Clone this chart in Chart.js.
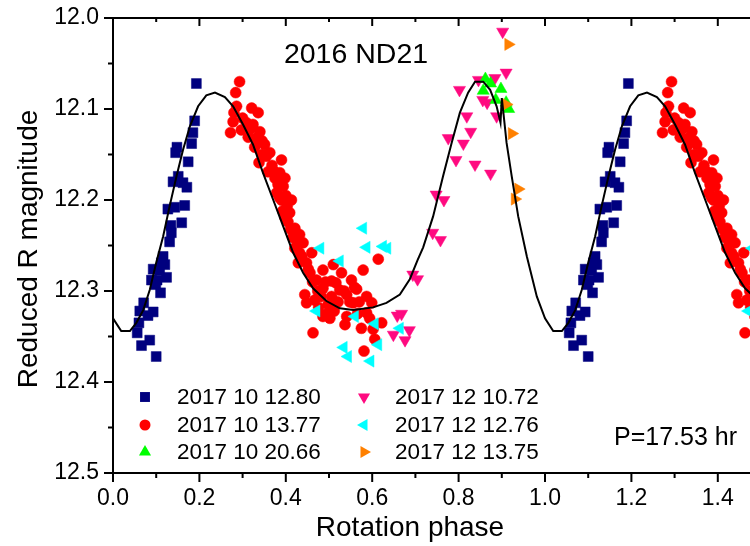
<!DOCTYPE html>
<html>
<head>
<meta charset="utf-8">
<script src="https://cdn.jsdelivr.net/npm/chart.js@4/dist/chart.umd.min.js"></script>
<style>
  html, body { margin: 0; padding: 0; background: #fff; overflow: hidden; }
  #wrap { width: 772px; height: 546px; position: relative; }
</style>
</head>
<body>
<div id="wrap"><canvas id="c"></canvas></div>
<script>
// ---------- data (rotation phase, reduced R magnitude) ----------
const chartTitle = "2016 ND21";
const periodLabel = "P=17.53 hr";
const xTitle = "Rotation phase";
const yTitle = "Reduced R magnitude";
const seriesNames = ["2017 10 12.80", "2017 10 13.77", "2017 10 20.66", "2017 12 10.72", "2017 12 12.76", "2017 12 13.75"];
const xTickValues = [0, 0.2, 0.4, 0.6, 0.8, 1.0, 1.2, 1.4];
const xMinorTicks = [0, 0.1, 0.2, 0.3, 0.4, 0.5, 0.6, 0.7, 0.8, 0.9, 1.0, 1.1, 1.2, 1.3, 1.4, 1.5];
const yTickValues = [12.0, 12.1, 12.2, 12.3, 12.4, 12.5];
const yMinorTicks = [12.0, 12.05, 12.1, 12.15, 12.2, 12.25, 12.3, 12.35, 12.4, 12.45, 12.5];
const phaseRepeats = [0, 1];   // the light curve is plotted over 1.5 cycles
const X_MAX = 1.5;

const bluePhase = [0.193,0.189,0.185,0.182,0.148,0.145,0.174,0.151,0.139,0.162,0.171,0.166,0.143,0.127,0.159,0.134,0.135,0.131,0.116,0.120,0.093,0.108,0.124,0.089,0.102,0.099,0.110,0.071,0.062,0.093,0.081,0.060,0.056,0.085,0.066,0.100,0.112];
const blueMag   = [12.072,12.113,12.126,12.138,12.142,12.148,12.158,12.174,12.180,12.181,12.186,12.206,12.208,12.210,12.225,12.228,12.236,12.246,12.262,12.271,12.276,12.277,12.285,12.288,12.288,12.293,12.302,12.313,12.322,12.323,12.327,12.335,12.346,12.354,12.360,12.372,12.269];

const redPhase = [0.293,0.284,0.286,0.321,0.336,0.278,0.309,0.324,0.272,0.340,0.313,0.332,0.351,0.363,0.390,0.338,0.359,0.386,0.375,0.398,0.382,0.394,0.390,0.413,0.403,0.409,0.405,0.421,0.432,0.440,0.421,0.460,0.432,0.429,0.448,0.456,0.486,0.510,0.529,0.579,0.614,0.471,0.506,0.552,0.486,0.525,0.564,0.541,0.444,0.506,0.587,0.448,0.467,0.498,0.556,0.599,0.486,0.541,0.502,0.587,0.622,0.537,0.575,0.602,0.463,0.606,0.581,
  0.300,0.318,0.345,0.328,0.355,0.368,0.372,0.379,0.385,0.393,0.398,0.411,0.416,0.426,0.437,0.452,0.474,0.482,0.492,0.516,0.521,0.535,0.548,0.559,0.570,0.512,0.495,0.476,0.566,0.594,0.280,0.297,0.345,0.400,0.462];
const redMag   = [12.070,12.082,12.097,12.099,12.104,12.114,12.115,12.117,12.126,12.125,12.131,12.132,12.139,12.148,12.156,12.159,12.169,12.170,12.176,12.176,12.183,12.185,12.200,12.200,12.207,12.214,12.224,12.231,12.238,12.247,12.253,12.258,12.258,12.269,12.269,12.280,12.277,12.271,12.280,12.277,12.265,12.288,12.289,12.288,12.297,12.299,12.298,12.304,12.304,12.306,12.306,12.313,12.310,12.315,12.313,12.313,12.328,12.328,12.330,12.324,12.335,12.337,12.341,12.342,12.346,12.353,12.366,
  12.110,12.122,12.135,12.142,12.152,12.162,12.168,12.192,12.197,12.212,12.219,12.232,12.241,12.246,12.262,12.276,12.300,12.306,12.290,12.291,12.312,12.300,12.312,12.296,12.312,12.322,12.325,12.318,12.325,12.330,12.104,12.123,12.150,12.195,12.290];

const greenPhase = [0.862,0.874,0.857,0.898,0.886,0.910,0.916];
const greenMag   = [12.067,12.072,12.080,12.078,12.090,12.093,12.100];

const pinkPhase = [0.902,0.910,0.884,0.846,0.802,0.856,0.866,0.888,0.819,0.828,0.776,0.811,0.794,0.838,0.874,0.748,0.766,0.740,0.758,0.694,0.705,0.668,0.686,0.676,0.658,0.649];
const pinkMag   = [12.015,12.060,12.066,12.068,12.079,12.090,12.093,12.108,12.108,12.125,12.132,12.138,12.156,12.161,12.171,12.194,12.200,12.236,12.244,12.282,12.287,12.325,12.343,12.354,12.327,12.348];

const cyanPhase = [0.579,0.587,0.625,0.635,0.480,0.525,0.471,0.560,0.606,0.664,0.614,0.534,0.544,0.596];
const cyanMag   = [12.231,12.252,12.251,12.253,12.253,12.267,12.322,12.328,12.336,12.341,12.359,12.362,12.372,12.377];

const orangePhase = [0.915,0.910,0.923,0.938,0.930];
const orangeMag   = [12.029,12.095,12.127,12.188,12.199];

const fitPhase = [0.000,0.019,0.039,0.054,0.070,0.085,0.100,0.116,0.131,0.147,0.162,0.178,0.197,0.216,0.236,0.259,0.278,0.301,0.324,0.347,0.371,0.394,0.417,0.440,0.463,0.494,0.525,0.556,0.602,0.633,0.664,0.687,0.705,0.718,0.741,0.764,0.784,0.803,0.822,0.838,0.857,0.873,0.888,0.897,0.900,0.903,0.911,0.923,0.938,0.958,0.981];
const fitMag   = [12.330,12.344,12.344,12.335,12.321,12.299,12.269,12.240,12.207,12.174,12.145,12.119,12.097,12.085,12.082,12.087,12.097,12.117,12.139,12.170,12.200,12.229,12.258,12.280,12.297,12.311,12.319,12.321,12.318,12.313,12.304,12.287,12.266,12.252,12.218,12.174,12.137,12.104,12.082,12.070,12.070,12.079,12.097,12.115,12.088,12.101,12.137,12.174,12.218,12.262,12.306];

// ---------- helpers ----------
function toPoints(ph, mg) {
  const out = [];
  phaseRepeats.forEach(k => ph.forEach((p, i) => { if (p + k <= X_MAX + 0.03) out.push({ x: p + k, y: mg[i] }); }));
  return out;
}
function toLine(ph, mg) {
  const out = [];
  phaseRepeats.forEach(k => ph.forEach((p, i) => { if (p + k <= X_MAX + 0.02) out.push({ x: p + k, y: mg[i] }); }));
  return out;
}

const FONT = "'Liberation Sans', Arial, Helvetica, sans-serif";
const styles = [
  { color: '#00007f', style: 'rect', radius: 7, rotation: 0 },
  { color: '#ff0000', style: 'circle', radius: 5.5, rotation: 0 },
  { color: '#00ff00', style: 'triangle', radius: 7, rotation: 0 },
  { color: '#ff0a80', style: 'triangle', radius: 7, rotation: 180 },
  { color: '#00ffff', style: 'triangle', radius: 7, rotation: 270 },
  { color: '#ff8000', style: 'triangle', radius: 7, rotation: 90 }
];
const phases = [bluePhase, redPhase, greenPhase, pinkPhase, cyanPhase, orangePhase];
const mags = [blueMag, redMag, greenMag, pinkMag, cyanMag, orangeMag];
const drawOrder = [7, 6, 3, 5, 4, 2];

const datasets = [{
  type: 'line', label: 'fit', data: toLine(fitPhase, fitMag),
  borderColor: '#000', borderWidth: 2, pointRadius: 0, showLine: true, tension: 0, fill: false, order: 1
}];
seriesNames.forEach((name, i) => {
  const s = styles[i];
  datasets.push({
    type: 'scatter', label: name, data: toPoints(phases[i], mags[i]),
    pointStyle: s.style, pointRadius: s.radius, pointRotation: s.rotation,
    backgroundColor: s.color, borderColor: s.color, borderWidth: 0.5,
    pointHoverRadius: s.radius, order: drawOrder[i]
  });
});

function marker(ctx, s, x, y) {
  ctx.save();
  ctx.fillStyle = s.color;
  ctx.translate(x, y);
  ctx.rotate(s.rotation * Math.PI / 180);
  ctx.beginPath();
  if (s.style === 'rect') {
    const h = s.radius * Math.SQRT1_2;
    ctx.rect(-h, -h, 2 * h, 2 * h);
  } else if (s.style === 'circle') {
    ctx.arc(0, 0, s.radius, 0, Math.PI * 2);
  } else {
    for (let k = 0; k < 3; k++) {
      const a = k * 2 * Math.PI / 3;
      ctx[k ? 'lineTo' : 'moveTo'](Math.sin(a) * s.radius, -Math.cos(a) * s.radius);
    }
    ctx.closePath();
  }
  ctx.fill();
  ctx.restore();
}

const decor = {
  id: 'decor',
  afterDraw(chart) {
    const { ctx, chartArea: a, scales: { x, y } } = chart;
    ctx.save();
    ctx.strokeStyle = '#000';
    ctx.lineWidth = 2;
    ctx.beginPath();
    ctx.moveTo(a.left - 1, a.top); ctx.lineTo(a.right, a.top);
    xMinorTicks.forEach(v => {
      const px = x.getPixelForValue(v);
      const major = xTickValues.some(t => Math.abs(t - v) < 1e-6);
      const L = major ? 9 : 5;
      ctx.moveTo(px, a.bottom); ctx.lineTo(px, a.bottom + L);
      ctx.moveTo(px, a.top); ctx.lineTo(px, a.top + L - 1);
    });
    yMinorTicks.forEach(v => {
      const py = y.getPixelForValue(v);
      const major = yTickValues.some(t => Math.abs(t - v) < 1e-6);
      const L = major ? 9 : 5;
      ctx.moveTo(a.left - L, py); ctx.lineTo(a.left, py);
    });
    ctx.stroke();

    ctx.fillStyle = '#000';
    ctx.textBaseline = 'middle';
    ctx.textAlign = 'center';
    ctx.font = '28.5px ' + FONT;
    ctx.fillText(chartTitle, 356, 55);
    ctx.font = '28px ' + FONT;
    ctx.fillText(xTitle, 410, 528);
    ctx.save();
    ctx.translate(29, 249);
    ctx.rotate(-Math.PI / 2);
    ctx.font = '28px ' + FONT;
    ctx.fillText(yTitle, 0, 0);
    ctx.restore();

    ctx.textAlign = 'left';
    ctx.font = '25px ' + FONT;
    ctx.fillText(periodLabel, 614, 438);

    ctx.font = '22.5px ' + FONT;
    const rowsY = [397, 425, 452];
    seriesNames.forEach((name, i) => {
      const col = Math.floor(i / 3), row = i % 3;
      const mx = col ? 364 : 145, tx = col ? 395 : 177;
      marker(ctx, styles[i], mx, rowsY[row]);
      ctx.fillStyle = '#000';
      ctx.fillText(name, tx, rowsY[row] + 1);
    });
    ctx.restore();
  }
};

new Chart(document.getElementById('c'), {
  data: { datasets },
  options: {
    responsive: true, maintainAspectRatio: false, animation: false,
    layout: { padding: { left: 0, right: 11, top: 18, bottom: 0 } },
    plugins: { legend: { display: false }, tooltip: { enabled: false } },
    scales: {
      x: {
        type: 'linear', min: 0, max: X_MAX,
        grid: { display: false, drawTicks: false },
        border: { display: true, color: '#000', width: 2 },
        afterBuildTicks: s => { s.ticks = xTickValues.map(v => ({ value: v })); },
        afterFit: s => { s.height = 73; s.paddingLeft = 0; s.paddingRight = 0; },
        ticks: { autoSkip: false, maxRotation: 0, padding: 12, color: '#000',
          font: { family: FONT, size: 23 }, callback: v => Number(v).toFixed(1) }
      },
      y: {
        type: 'linear', min: 12.0, max: 12.5, reverse: true,
        grid: { display: false, drawTicks: false },
        border: { display: true, color: '#000', width: 2 },
        afterBuildTicks: s => { s.ticks = yTickValues.map(v => ({ value: v })); },
        afterFit: s => { s.width = 113; s.paddingTop = 0; s.paddingBottom = 0; },
        ticks: { autoSkip: false, padding: 14, color: '#000',
          font: { family: FONT, size: 23 }, callback: v => Number(v).toFixed(1) }
      }
    }
  },
  plugins: [decor]
});
</script>
</body>
</html>
